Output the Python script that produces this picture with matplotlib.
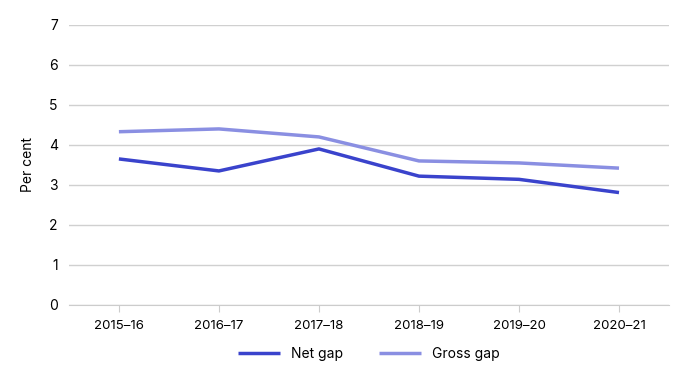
import matplotlib.pyplot as plt

years = ['2015–16', '2016–17', '2017–18', '2018–19', '2019–20', '2020–21']
net_gap = [3.65, 3.35, 3.9, 3.22, 3.14, 2.81]
gross_gap = [4.33, 4.4, 4.2, 3.6, 3.55, 3.42]

plt.rcParams['font.family'] = ['Inter', 'DejaVu Sans']

fig = plt.figure(figsize=(6.89, 3.77), dpi=100)
ax = fig.add_axes([0.100, 0.191, 0.871, 0.743])

x = range(len(years))
ax.plot(x, net_gap, color='#3a43cc', lw=2.5, label='Net gap', solid_capstyle='butt')
ax.plot(x, gross_gap, color='#8a8fe2', lw=2.5, label='Gross gap', solid_capstyle='butt')

ax.set_xlim(-0.5, 5.5)
ax.set_ylim(0, 7)
ax.set_xticks(list(x))
ax.set_xticklabels(years, fontsize=9.5)
ax.set_yticks(range(8))
ax.tick_params(axis='y', length=0, labelsize=10, pad=8)
ax.tick_params(axis='x', length=5, color='#cccccc', pad=6)
ax.grid(axis='y', color='#d0d0d0', lw=1)
ax.set_axisbelow(True)
for s in ['top', 'right', 'left']:
    ax.spines[s].set_visible(False)
ax.spines['bottom'].set_color('#cccccc')
ax.set_ylabel('Per cent', fontsize=10, labelpad=10)

ax.legend(loc='upper center', bbox_to_anchor=(0.5, -0.105), ncol=2, frameon=False,
          fontsize=10, handlelength=3.0, handletextpad=0.8, columnspacing=2.6)

fig.savefig('out.png', dpi=100)
